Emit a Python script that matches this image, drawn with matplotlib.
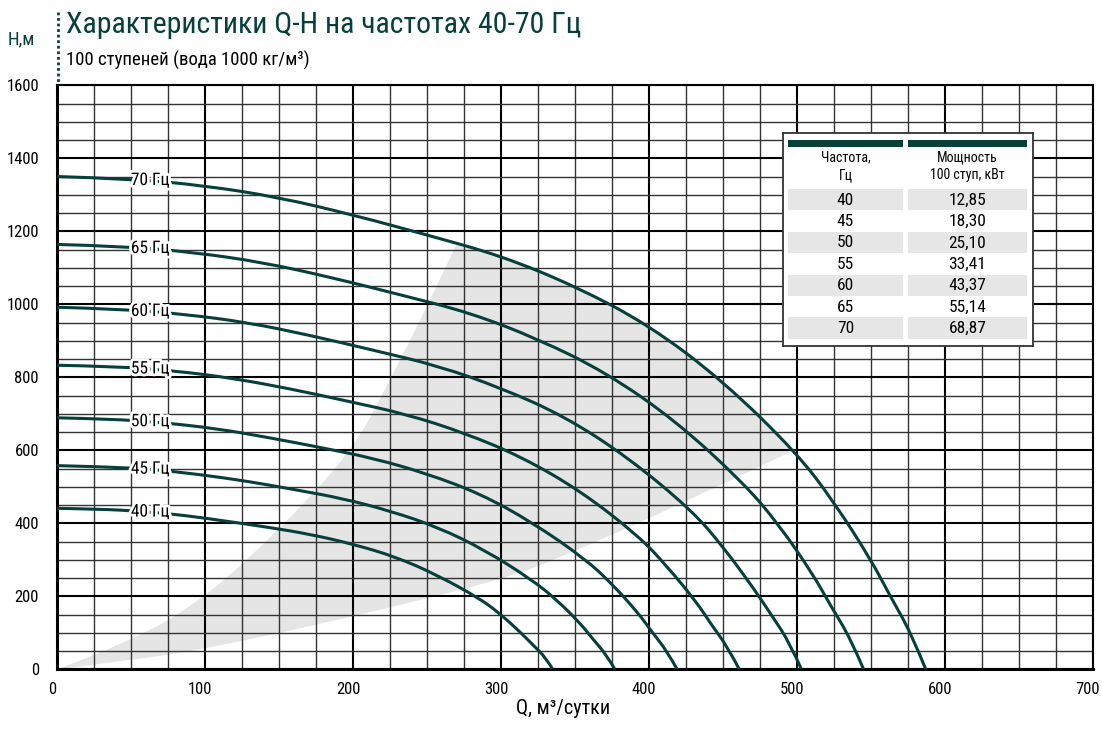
import numpy as np
import matplotlib
matplotlib.use('Agg')
from matplotlib import pyplot as plt
from matplotlib import font_manager, patheffects
from matplotlib.lines import Line2D
from matplotlib.patches import Rectangle, PathPatch
from matplotlib.path import Path
from matplotlib.ticker import MultipleLocator
from matplotlib.transforms import ScaledTranslation


def pick_font():
    # prefer a narrow face, the chart text is set tight
    entries = font_manager.fontManager.ttflist
    names = {f.name for f in entries}
    for n in ['Liberation Sans Narrow', 'Noto Sans ExtraCondensed', 'Noto Sans Condensed',
              'DejaVu Sans Condensed', 'Roboto Condensed', 'Open Sans Condensed',
              'Noto Sans SemiCondensed']:
        if n in names:
            return n, 'normal'
    for f in entries:
        if f.stretch in ('condensed', 'extra-condensed', 'semi-condensed') and f.style == 'normal':
            return f.name, f.stretch
    return 'DejaVu Sans', 'normal'


base_font, base_stretch = pick_font()
plt.rcParams['font.family'] = [base_font, 'DejaVu Sans']
plt.rcParams['font.stretch'] = base_stretch

TEAL = '#073f3b'
W, H = 1102, 730

# Q-H curves, Q in m3/day, H in m (100 stages)
q40 = [0, 29, 57, 86, 114, 143, 171, 200, 229, 257, 286, 300, 314, 322, 330, 335]
h40 = [441, 439, 433, 422, 406, 389, 370, 343, 308, 258, 193, 150, 98, 65, 33, 0]
q45 = [0, 32, 64, 96, 129, 161, 193, 225, 257, 289, 321, 338, 354, 362, 371, 377]
h45 = [558, 555, 548, 534, 515, 492, 468, 434, 390, 327, 245, 189, 124, 83, 41, 0]
q50 = [0, 36, 71, 107, 143, 179, 214, 250, 286, 321, 357, 375, 393, 402, 412, 419]
h50 = [689, 686, 676, 660, 635, 607, 578, 536, 481, 403, 302, 234, 153, 102, 51, 0]
q55 = [0, 39, 79, 118, 157, 196, 236, 275, 314, 354, 393, 412, 432, 442, 453, 461]
h55 = [833, 830, 818, 798, 769, 735, 699, 648, 582, 488, 365, 283, 185, 123, 62, 0]
q60 = [0, 43, 86, 129, 171, 214, 257, 300, 343, 386, 429, 450, 471, 483, 495, 503]
h60 = [992, 987, 973, 950, 915, 874, 832, 771, 693, 580, 435, 336, 220, 147, 73, 0]
q65 = [0, 46, 93, 139, 186, 232, 279, 325, 371, 418, 464, 488, 511, 523, 536, 545]
h65 = [1164, 1159, 1142, 1115, 1073, 1026, 977, 905, 813, 681, 510, 395, 259, 172, 86, 0]
q70 = [0, 50, 100, 150, 200, 250, 300, 350, 400, 450, 500, 525, 550, 563, 577, 587]
h70 = [1350, 1344, 1325, 1293, 1245, 1190, 1133, 1050, 943, 790, 592, 458, 300, 200, 100, 0]

curves = [(40, q40, h40), (45, q45, h45), (50, q50, h50), (55, q55, h55),
          (60, q60, h60), (65, q65, h65), (70, q70, h70)]

# recommended operating zone
zone_upper_q = [0, 50, 100, 150, 200, 225, 250, 270]
zone_upper_h = [0, 75, 195, 382, 600, 793, 993, 1165]
zone_edge_q = [270, 300, 350, 400, 450, 498]
zone_edge_h = [1165, 1133, 1050, 943, 790, 600]
zone_lower_q = [498, 423, 336, 300, 200, 100, 50, 0]
zone_lower_h = [600, 455, 299, 245, 144, 55, 25, 0]

# power table
freqs = ['40', '45', '50', '55', '60', '65', '70']
powers = ['12,85', '18,30', '25,10', '33,41', '43,37', '55,14', '68,87']


def smooth_path(q, h):
    # quadratic bezier through the midpoints, pinned at both ends
    pts = np.column_stack([q, h]).astype(float)
    verts = [pts[0]]
    codes = [Path.MOVETO]
    for i in range(1, len(pts) - 1):
        end = pts[i + 1] if i == len(pts) - 2 else (pts[i] + pts[i + 1]) / 2
        verts += [pts[i], end]
        codes += [Path.CURVE3, Path.CURVE3]
    if len(pts) == 2:
        verts.append(pts[1])
        codes.append(Path.LINETO)
    return verts, codes


fig = plt.figure(figsize=(W / 100, H / 100), dpi=100)
ax = fig.add_axes([57 / W, 60.7 / H, 1036 / W, 584 / H])
ax.set_xlim(0, 700)
ax.set_ylim(0, 1600)

zone_verts, zone_codes = [], []
for part_q, part_h in [(zone_upper_q, zone_upper_h), (zone_edge_q, zone_edge_h),
                       (zone_lower_q, zone_lower_h)]:
    v, c = smooth_path(part_q, part_h)
    if zone_verts:
        c[0] = Path.LINETO
    zone_verts += v
    zone_codes += c
zone_verts.append(zone_verts[0])
zone_codes.append(Path.CLOSEPOLY)
ax.add_patch(PathPatch(Path(zone_verts, zone_codes), facecolor='#e5e5e5', lw=0, zorder=1))

ax.xaxis.set_major_locator(MultipleLocator(100))
ax.xaxis.set_minor_locator(MultipleLocator(25))
ax.yaxis.set_major_locator(MultipleLocator(200))
ax.yaxis.set_minor_locator(MultipleLocator(50))
ax.grid(which='major', color='black', lw=1.5)
ax.grid(which='minor', color='#333333', lw=1.0)
ax.tick_params(which='both', length=0, labelsize=12)
ax.tick_params(axis='x', pad=9)
ax.tick_params(axis='y', pad=13)
for side in ['left', 'bottom']:
    ax.spines[side].set_linewidth(2.2)
for side in ['top', 'right']:
    ax.spines[side].set_linewidth(1.5)
shift = ScaledTranslation(-5 / 100, 0, fig.dpi_scale_trans)
for lab in ax.get_xticklabels():
    lab.set_transform(lab.get_transform() + shift)

halo = [patheffects.withStroke(linewidth=4, foreground='white')]
for f, q, h in curves:
    v, c = smooth_path(q, h)
    ax.add_patch(PathPatch(Path(v, c), facecolor='none', edgecolor=TEAL, lw=2.2,
                           zorder=3, capstyle='butt'))
    ax.text(63, np.interp(63, q, h), f'{f} Гц', fontsize=12.5, ha='center', va='center',
            zorder=4, path_effects=halo)

# headings
fig.text(8 / W, 1 - 39 / H, 'Н,м', fontsize=13.5, color=TEAL, va='center', ha='left')
fig.text(66 / W, 1 - 33.3 / H, 'Характеристики Q-H на частотах 40-70 Гц',
         fontsize=21.5, color=TEAL, va='baseline', ha='left')
fig.text(66 / W, 1 - 65.7 / H, '100 ступеней (вода 1000 кг/м³)',
         fontsize=13.5, va='baseline', ha='left')
fig.add_artist(Line2D([58.3 / W] * 2, [1 - 11.7 / H, 1 - 85 / H], color=TEAL,
                      lw=2, linestyle=(0, (1, 1))))
fig.text(563 / W, 1 - 714 / H, 'Q, м³/сутки', fontsize=14.5, ha='center', va='baseline')

# power table box, drawn in its own pixel frame
bx0, by0, bw, bh = 782.7, 133.3, 250.6, 212.7
tab = fig.add_axes([bx0 / W, 1 - (by0 + bh) / H, bw / W, bh / H], zorder=5)
tab.set_xlim(0, bw)
tab.set_ylim(bh, 0)
tab.set_xticks([])
tab.set_yticks([])
for sp in tab.spines.values():
    sp.set_linewidth(1.3)
    sp.set_color('#333333')

cols = [(5.6, 114.4), (125.6, 118.4)]
for x0, cw in cols:
    tab.add_patch(Rectangle((x0, 6.7), cw, 6.7, color=TEAL, lw=0))
tab.text(cols[0][0] + cols[0][1] / 2, 33, 'Частота,\nГц', fontsize=10,
         ha='center', va='center', linespacing=1.35)
tab.text(cols[1][0] + cols[1][1] / 2, 33, 'Мощность\n100 ступ, кВт', fontsize=10,
         ha='center', va='center', linespacing=1.35)

row_h = 21.4
for i, (fr, pw) in enumerate(zip(freqs, powers)):
    y0 = 55.7 + i * row_h
    if i % 2 == 0:
        for x0, cw in cols:
            tab.add_patch(Rectangle((x0, y0), cw, row_h, color='#e6e6e6', lw=0))
    tab.text(cols[0][0] + cols[0][1] / 2, y0 + row_h / 2 + 0.5, fr, fontsize=12.5,
             ha='center', va='center')
    tab.text(cols[1][0] + cols[1][1] / 2, y0 + row_h / 2 + 0.5, pw, fontsize=12.5,
             ha='center', va='center')

fig.savefig('out.png', dpi=100)
